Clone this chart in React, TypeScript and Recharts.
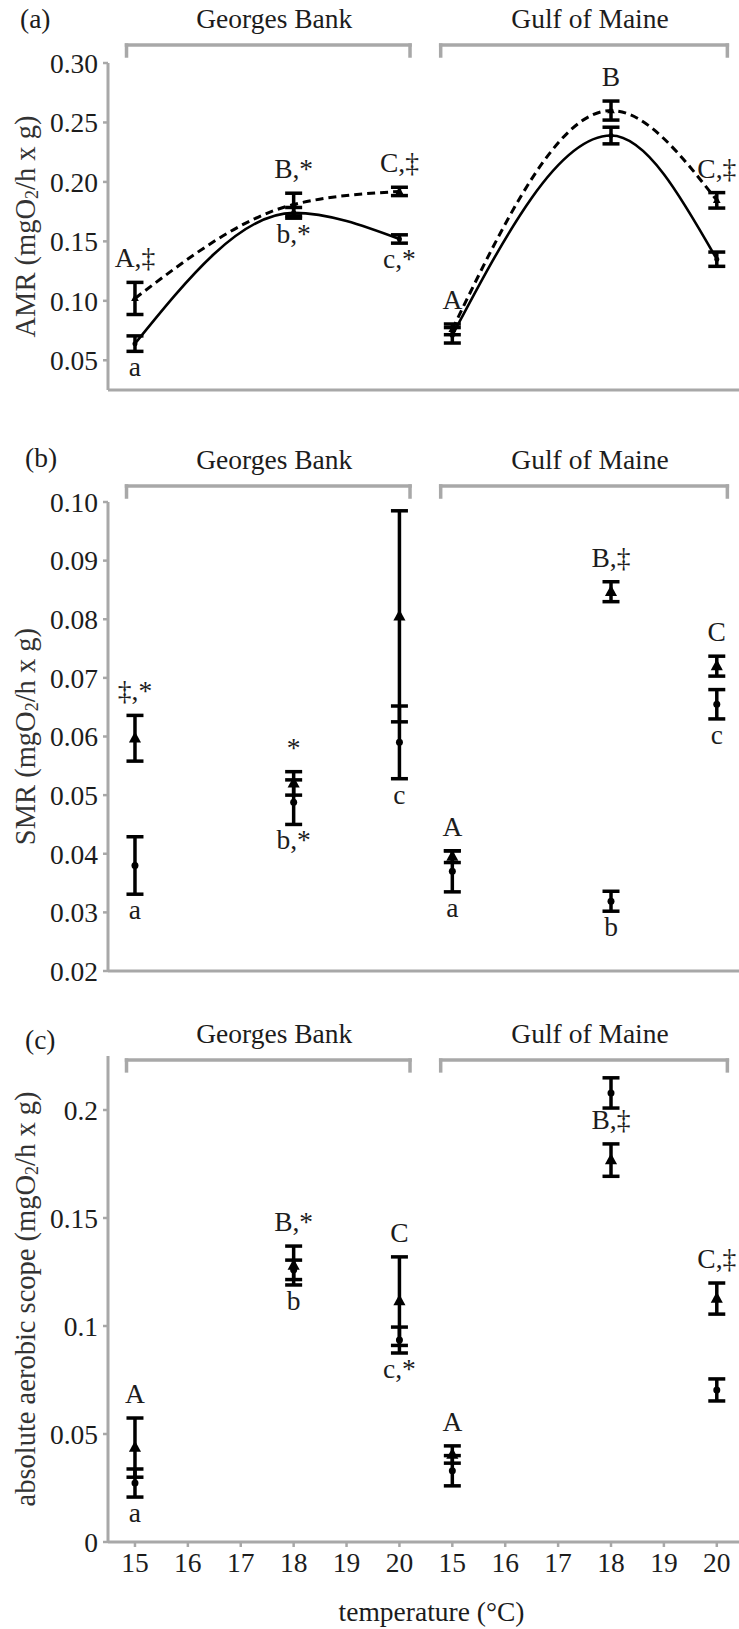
import React from 'react';
import { ComposedChart, Line, Scatter, XAxis, YAxis, ErrorBar, ReferenceLine } from 'recharts';

const FONT = '"Liberation Serif", "Times New Roman", Times, serif';
const INK = '#1c1c1c';
const GREY = '#a8a8a8';
const W = 739;

// Two sites, three acclimation temperatures each; x positions run 0..11 across both sites
const SITES = ['Georges Bank', 'Gulf of Maine'];
const TEMPS = [15, 18, 20];
const AXIS_TEMPS = [15, 16, 17, 18, 19, 20, 15, 16, 17, 18, 19, 20];
const X_TICKS = AXIS_TEMPS.map((_, i) => i);
const X_DOMAIN: [number, number] = [-0.51, 11.42];
const BRACKETS: [number, number][] = [[-0.16, 5.2], [5.78, 11.2]];

// (a) AMR: triangles (dashed fit) and circles (solid fit), mean and SE
const amrTriGB = [0.102, 0.181, 0.192];
const amrTriGBse = [0.0135, 0.0095, 0.0035];
const amrCircGB = [0.064, 0.174, 0.152];
const amrCircGBse = [0.0065, 0.0045, 0.0035];
const amrTriGoM = [0.076, 0.26, 0.1845];
const amrTriGoMse = [0.0045, 0.008, 0.0065];
const amrCircGoM = [0.071, 0.239, 0.135];
const amrCircGoMse = [0.0065, 0.007, 0.006];
const amrUpper = [['A,‡', 'B,*', 'C,‡'], ['A', 'B', 'C,‡']];
const amrLower = [['a', 'b,*', 'c,*'], ['', '', '']];
const amrTicks = [0.05, 0.1, 0.15, 0.2, 0.25, 0.3];

// (b) SMR
const smrTriGB = [0.0597, 0.052, 0.0805];
const smrTriGBse = [0.0039, 0.002, 0.018];
const smrCircGB = [0.038, 0.0488, 0.059];
const smrCircGBse = [0.0049, 0.0038, 0.0062];
const smrTriGoM = [0.0395, 0.0847, 0.072];
const smrTriGoMse = [0.001, 0.0017, 0.0017];
const smrCircGoM = [0.037, 0.0319, 0.0655];
const smrCircGoMse = [0.0035, 0.0017, 0.0025];
const smrUpper = [['‡,*', '*', ''], ['A', 'B,‡', 'C']];
const smrLower = [['a', 'b,*', 'c'], ['a', 'b', 'c']];
const smrTicks = [0.02, 0.03, 0.04, 0.05, 0.06, 0.07, 0.08, 0.09, 0.1];

// (c) absolute aerobic scope
const aasTriGB = [0.0437, 0.128, 0.1115];
const aasTriGBse = [0.0137, 0.009, 0.0205];
const aasCircGB = [0.0273, 0.126, 0.0935];
const aasCircGBse = [0.0065, 0.0045, 0.006];
const aasTriGoM = [0.0405, 0.1768, 0.1127];
const aasTriGoMse = [0.004, 0.0075, 0.0072];
const aasCircGoM = [0.033, 0.2079, 0.0704];
const aasCircGoMse = [0.007, 0.007, 0.0051];
const aasUpper = [['A', 'B,*', 'C'], ['A', 'B,‡', 'C,‡']];
const aasLower = [['a', 'b', 'c,*'], ['', '', '']];
const aasTicks = [0, 0.05, 0.1, 0.15, 0.2];

type Pt = { x: number; y: number; se: number };
type Txt = { x: number; y: number; text: string };

const xPos = (site: number, t: number) => site * 6 + (t - 15);

const points = (site: number, means: number[], ses: number[]): Pt[] =>
  TEMPS.map((t, i) => ({ x: xPos(site, t), y: means[i], se: ses[i] }));

// letters above the triangle's upper whisker
const upperText = (site: number, means: number[], ses: number[], texts: string[]): Txt[] =>
  TEMPS.map((t, i) => ({ x: xPos(site, t), y: means[i] + ses[i], text: texts[i] })).filter((d) => d.text);

// letters below the lowest whisker at that temperature
const lowerText = (
  site: number,
  cMeans: number[],
  cSes: number[],
  tMeans: number[],
  tSes: number[],
  texts: string[]
): Txt[] =>
  TEMPS.map((t, i) => ({
    x: xPos(site, t),
    y: Math.min(cMeans[i] - cSes[i], tMeans[i] - tSes[i]),
    text: texts[i],
  })).filter((d) => d.text);

const triangleShape = (size: number) => (props: any) => {
  const { cx, cy } = props;
  if (cx == null || cy == null) return <g />;
  const w = size * 1.1;
  return (
    <path
      d={`M${cx},${cy - size * 0.62}L${cx + w / 2},${cy + size * 0.38}L${cx - w / 2},${cy + size * 0.38}Z`}
      fill="#000"
    />
  );
};

const circleShape = (r: number) => (props: any) => {
  const { cx, cy } = props;
  if (cx == null || cy == null) return <g />;
  return <circle cx={cx} cy={cy} r={r} fill="#000" />;
};

const textStyle = { fontFamily: FONT, fontSize: 27.5, fill: INK };

const aboveShape = (props: any) => (
  <text x={props.cx} y={props.cy - 15} textAnchor="middle" {...textStyle}>
    {props.payload.text}
  </text>
);

const belowShape = (props: any) => (
  <text x={props.cx} y={props.cy + 25} textAnchor="middle" {...textStyle}>
    {props.payload.text}
  </text>
);

const YTitle = ({ viewBox, text }: any) => {
  const vb = viewBox || { x: 0, y: 0, width: 108, height: 300 };
  const cx = 25;
  const cy = vb.y + vb.height / 2;
  return (
    <text
      x={cx}
      y={cy}
      transform={`rotate(-90 ${cx} ${cy})`}
      textAnchor="middle"
      dominantBaseline="central"
      fontFamily={FONT}
      fontSize={28.5}
      fill="#333"
    >
      {text} (mgO<tspan dy={7} fontSize={18}>2</tspan>
      <tspan dy={-7}>/h x g)</tspan>
    </text>
  );
};

const XTitle = ({ viewBox }: any) => {
  const vb = viewBox || { x: 108, y: 0, width: 631, height: 87 };
  return (
    <text
      x={vb.x + vb.width / 2 + 8}
      y={vb.y + vb.height - 8}
      textAnchor="middle"
      fontFamily={FONT}
      fontSize={27.5}
      fill={INK}
    >
      temperature (°C)
    </text>
  );
};

type Panel = {
  top: number;
  height: number;
  marginTop: number;
  xAxisHeight: number;
  domain: [number, number];
  ticks: number[];
  fmt: (v: number) => string;
  title: string;
  tri: Pt[][];
  circ: Pt[][];
  upper: Txt[];
  lower: Txt[];
  curves: boolean;
  triSize: number;
  dotR: number;
  bracket: [number, number];
  showX: boolean;
};

const panels: Panel[] = [
  {
    top: 0,
    height: 410,
    marginTop: 63,
    xAxisHeight: 20,
    domain: [0.025, 0.3],
    ticks: amrTicks,
    fmt: (v) => v.toFixed(2),
    title: 'AMR',
    tri: [points(0, amrTriGB, amrTriGBse), points(1, amrTriGoM, amrTriGoMse)],
    circ: [points(0, amrCircGB, amrCircGBse), points(1, amrCircGoM, amrCircGoMse)],
    upper: [
      ...upperText(0, amrTriGB, amrTriGBse, amrUpper[0]),
      ...upperText(1, amrTriGoM, amrTriGoMse, amrUpper[1]),
    ],
    lower: [
      ...lowerText(0, amrCircGB, amrCircGBse, amrTriGB, amrTriGBse, amrLower[0]),
      ...lowerText(1, amrCircGoM, amrCircGoMse, amrTriGoM, amrTriGoMse, amrLower[1]),
    ],
    curves: true,
    triSize: 7,
    dotR: 2.5,
    bracket: [0.3151, 0.3059],
    showX: false,
  },
  {
    top: 410,
    height: 580,
    marginTop: 92,
    xAxisHeight: 19,
    domain: [0.02, 0.1],
    ticks: smrTicks,
    fmt: (v) => v.toFixed(2),
    title: 'SMR',
    tri: [points(0, smrTriGB, smrTriGBse), points(1, smrTriGoM, smrTriGoMse)],
    circ: [points(0, smrCircGB, smrCircGBse), points(1, smrCircGoM, smrCircGoMse)],
    upper: [
      ...upperText(0, smrTriGB, smrTriGBse, smrUpper[0]),
      ...upperText(1, smrTriGoM, smrTriGoMse, smrUpper[1]),
    ],
    lower: [
      ...lowerText(0, smrCircGB, smrCircGBse, smrTriGB, smrTriGBse, smrLower[0]),
      ...lowerText(1, smrCircGoM, smrCircGoMse, smrTriGoM, smrTriGoMse, smrLower[1]),
    ],
    curves: false,
    triSize: 11,
    dotR: 3.5,
    bracket: [0.10273, 0.10085],
    showX: false,
  },
  {
    top: 990,
    height: 639,
    marginTop: 66,
    xAxisHeight: 87,
    domain: [0, 0.225],
    ticks: aasTicks,
    fmt: (v) => String(Number(v.toFixed(2))),
    title: 'absolute aerobic scope',
    tri: [points(0, aasTriGB, aasTriGBse), points(1, aasTriGoM, aasTriGoMse)],
    circ: [points(0, aasCircGB, aasCircGBse), points(1, aasCircGoM, aasCircGoMse)],
    upper: [
      ...upperText(0, aasTriGB, aasTriGBse, aasUpper[0]),
      ...upperText(1, aasTriGoM, aasTriGoMse, aasUpper[1]),
    ],
    lower: [
      ...lowerText(0, aasCircGB, aasCircGBse, aasTriGB, aasTriGBse, aasLower[0]),
      ...lowerText(1, aasCircGoM, aasCircGoMse, aasTriGoM, aasTriGoMse, aasLower[1]),
    ],
    curves: false,
    triSize: 11,
    dotR: 3.5,
    bracket: [0.2231, 0.2181],
    showX: true,
  },
];

const PANEL_LETTERS = [
  { text: '(a)', x: 20, y: 28 },
  { text: '(b)', x: 25, y: 467 },
  { text: '(c)', x: 25, y: 1049 },
];

function PanelChart({ p }: { p: Panel }) {
  const bracketLines = SITES.flatMap((name, s) => {
    const [a, b] = BRACKETS[s];
    const [hi, lo] = p.bracket;
    const common = {
      ifOverflow: 'visible' as const,
      stroke: GREY,
      strokeWidth: 3.5,
      strokeLinecap: 'square' as const,
    };
    return [
      <ReferenceLine
        key={`h${s}`}
        segment={[{ x: a, y: hi }, { x: b, y: hi }]}
        {...common}
        label={{ value: name, position: 'top', offset: 17, dx: 6, ...textStyle }}
      />,
      <ReferenceLine key={`l${s}`} segment={[{ x: a, y: hi }, { x: a, y: lo }]} {...common} />,
      <ReferenceLine key={`r${s}`} segment={[{ x: b, y: hi }, { x: b, y: lo }]} {...common} />,
    ];
  });

  return (
    <div style={{ position: 'absolute', left: 0, top: p.top }}>
      <ComposedChart width={W} height={p.height} margin={{ top: p.marginTop, right: 0, bottom: 0, left: 0 }}>
        <XAxis
          type="number"
          dataKey="x"
          domain={X_DOMAIN}
          ticks={X_TICKS}
          allowDataOverflow
          height={p.xAxisHeight}
          axisLine={{ stroke: GREY, strokeWidth: 3 }}
          tickLine={{ stroke: GREY, strokeWidth: 2.5 }}
          tickSize={5}
          tickMargin={5}
          tick={p.showX ? { ...textStyle } : false}
          tickFormatter={(v: number) => String(AXIS_TEMPS[v])}
          label={p.showX ? (props: any) => <XTitle {...props} /> : undefined}
        />
        <YAxis
          type="number"
          domain={p.domain}
          ticks={p.ticks}
          allowDataOverflow
          width={108}
          axisLine={{ stroke: GREY, strokeWidth: 3 }}
          tickLine={{ stroke: GREY, strokeWidth: 2.5 }}
          tickSize={5}
          tickMargin={5}
          tick={{ ...textStyle }}
          tickFormatter={p.fmt}
          label={(props: any) => <YTitle {...props} text={p.title} />}
        />
        {bracketLines}
        {p.curves &&
          p.circ.map((d, s) => (
            <Line
              key={`cl${s}`}
              data={d}
              dataKey="y"
              type="monotone"
              stroke="#000"
              strokeWidth={2.6}
              dot={false}
              activeDot={false}
              isAnimationActive={false}
            />
          ))}
        {p.curves &&
          p.tri.map((d, s) => (
            <Line
              key={`tl${s}`}
              data={d}
              dataKey="y"
              type="monotone"
              stroke="#000"
              strokeWidth={3}
              strokeDasharray="8 5"
              dot={false}
              activeDot={false}
              isAnimationActive={false}
            />
          ))}
        {p.tri.map((d, s) => (
          <Scatter key={`ts${s}`} data={d} dataKey="y" shape={triangleShape(p.triSize)} isAnimationActive={false}>
            <ErrorBar dataKey="se" direction="y" width={8.5} strokeWidth={3.5} stroke="#000" />
          </Scatter>
        ))}
        {p.circ.map((d, s) => (
          <Scatter key={`cs${s}`} data={d} dataKey="y" shape={circleShape(p.dotR)} isAnimationActive={false}>
            <ErrorBar dataKey="se" direction="y" width={8.5} strokeWidth={3.5} stroke="#000" />
          </Scatter>
        ))}
        <Scatter data={p.upper} dataKey="y" shape={aboveShape} isAnimationActive={false} />
        <Scatter data={p.lower} dataKey="y" shape={belowShape} isAnimationActive={false} />
      </ComposedChart>
    </div>
  );
}

export default function App() {
  return (
    <div style={{ position: 'absolute', left: 0, top: 0, width: W, height: 1629, background: '#fff' }}>
      {panels.map((p, i) => (
        <PanelChart key={i} p={p} />
      ))}
      <svg
        width={W}
        height={1629}
        style={{ position: 'absolute', left: 0, top: 0, pointerEvents: 'none' }}
      >
        {PANEL_LETTERS.map((l) => (
          <text key={l.text} x={l.x} y={l.y} {...textStyle}>
            {l.text}
          </text>
        ))}
      </svg>
    </div>
  );
}
